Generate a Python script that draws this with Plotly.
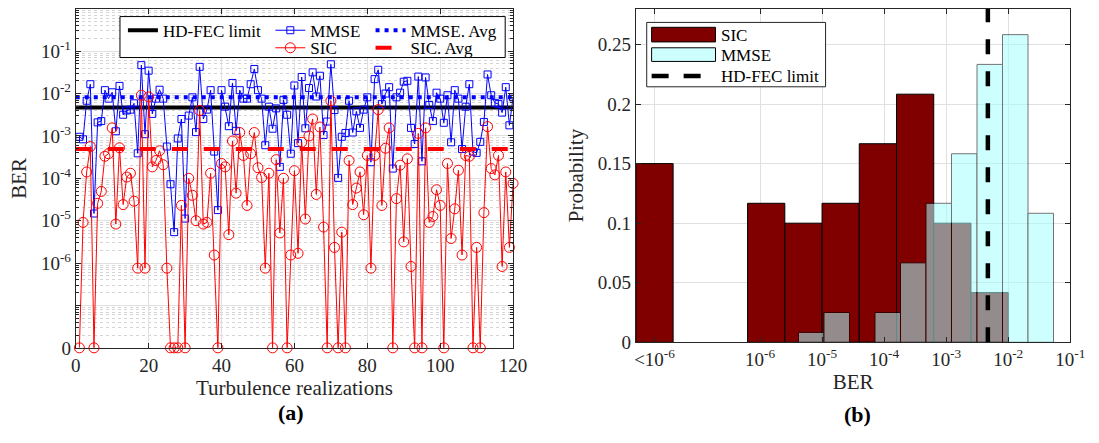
import math
import plotly.graph_objects as go

W, H = 1099, 443
FONT = "Liberation Serif, Times New Roman, serif"
INK = "#262626"

# ---------------- data: panel (a) ----------------
realization = list(range(1, 121))

# log10(BER) of MMSE for each turbulence realization
mmse_log10_ber = [
    -3.02, -3.08, -2.17, -1.78, -4.83, -2.68, -2.65, -1.92, -2.12, -1.97,
    -2.89, -1.82, -2.50, -2.40, -2.38, -2.23, -3.41, -1.33, -2.96, -1.46,
    -2.48, -2.12, -1.91, -2.12, -3.25, -4.14, -5.27, -3.06, -2.60, -4.95,
    -2.52, -2.09, -2.91, -1.37, -2.60, -2.38, -1.92, -3.37, -4.75, -1.92,
    -2.31, -2.77, -1.75, -2.88, -1.92, -2.12, -2.12, -1.78, -1.42, -1.92,
    -2.12, -3.22, -2.31, -2.83, -2.35, -3.73, -2.15, -2.50, -3.42, -1.81,
    -3.17, -1.61, -2.82, -1.87, -1.50, -2.07, -1.58, -2.98, -2.66, -1.31,
    -2.39, -3.99, -3.02, -2.93, -2.17, -2.92, -2.42, -2.81, -2.38, -2.09,
    -3.62, -1.66, -1.44, -2.25, -2.00, -1.85, -3.77, -2.09, -1.98, -1.72,
    -1.70, -2.81, -3.19, -1.60, -3.60, -1.62, -2.27, -2.65, -1.98, -2.12,
    -2.69, -2.04, -3.15, -1.92, -2.12, -3.31, -2.31, -1.78, -3.37, -3.40,
    -3.14, -2.67, -1.55, -2.04, -2.22, -2.25, -2.45, -1.85, -2.75, -2.09,
]

# log10(BER) of SIC; None = error free (BER = 0)
sic_log10_ber = [
    None, -5.04, -3.85, -3.25, None, -4.59, -4.31, -3.48, -3.42, -2.81,
    -5.08, -3.28, -4.62, -3.97, -3.88, -4.54, -6.12, -2.04, -6.12, -2.08,
    -3.73, -3.58, -3.35, -3.68, -6.12, None, None, None, -4.64, None,
    -4.00, -4.40, -5.00, -2.40, -5.08, -5.04, -3.88, -5.81, None, -3.65,
    -3.73, -5.33, -3.12, -4.35, -2.92, -3.46, -4.64, -3.42, -2.92, -3.75,
    -3.98, -6.12, -3.88, None, -3.56, -5.29, -4.00, None, -5.81, -3.82,
    -5.77, -3.15, -4.96, -3.00, -2.60, -4.38, -2.79, -5.15, None, -2.17,
    -5.63, None, -5.27, None, -3.58, -4.62, -4.23, -3.85, -4.86, -3.46,
    -6.12, -3.46, -2.38, -4.64, -3.29, -2.81, None, -4.48, -3.69, -5.50,
    -3.54, -6.08, None, -2.94, None, -2.81, -5.04, -4.90, -4.27, -4.64,
    None, -3.65, -5.42, -4.72, -3.81, -5.81, -3.46, -3.48, None, -5.63,
    None, -4.81, -2.78, -3.77, -3.92, -3.46, -6.08, -3.85, -5.63, -4.12,
]

HD_FEC = 4.7e-3
MMSE_AVG = 8.2e-3
SIC_AVG = 4.9e-4
ZERO_BER_POS = 1e-8          # where BER = 0 is drawn on the log axis

# ---------------- data: panel (b) ----------------
sic_bin_left = [-8.0, -6.2, -5.6, -5.0, -4.4, -3.8, -3.2, -2.6]   # log10(BER)
sic_bin_width = 0.6
sic_prob = [0.15, 0.1167, 0.10, 0.1167, 0.1667, 0.2083, 0.10, 0.0417]

mmse_bin_left = [-5.38, -4.969, -4.558, -4.147, -3.736, -3.325, -2.914, -2.503, -2.092, -1.681]
mmse_bin_width = 0.411
mmse_prob = [0.0083, 0.025, 0.0, 0.025, 0.0667, 0.1167, 0.1583, 0.2333, 0.2583, 0.1083]

b_tick_vals = [-7.7, -6, -5, -4, -3, -2, -1]
b_tick_text = ["&lt;10<sup>-6</sup>", "10<sup>-6</sup>", "10<sup>-5</sup>", "10<sup>-4</sup>",
               "10<sup>-3</sup>", "10<sup>-2</sup>", "10<sup>-1</sup>"]


def px(x):
    return x / W


def py(y):
    return 1 - y / H


mmse_ber = [10 ** v for v in mmse_log10_ber]
sic_ber = [0.0 if v is None else 10 ** v for v in sic_log10_ber]
sic_plot = [b if b > 0 else ZERO_BER_POS for b in sic_ber]

fig = go.Figure()

# ---- panel (a) ----
fig.add_trace(go.Scatter(
    x=[0, 120], y=[HD_FEC, HD_FEC], mode="lines", name="HD-FEC limit",
    line=dict(color="black", width=4), legend="legend", xaxis="x", yaxis="y"))
fig.add_trace(go.Scatter(
    x=realization, y=mmse_ber, mode="lines+markers", name="MMSE",
    line=dict(color="#0000ff", width=1),
    marker=dict(symbol="square-open", size=7, color="#0000ff", line=dict(width=1)),
    legend="legend2", xaxis="x", yaxis="y"))
fig.add_trace(go.Scatter(
    x=realization, y=sic_plot, mode="lines+markers", name="SIC",
    line=dict(color="#ff0000", width=1), cliponaxis=False,
    marker=dict(symbol="circle-open", size=10, color="#ff0000", line=dict(width=1)),
    legend="legend3", xaxis="x", yaxis="y"))
fig.add_trace(go.Scatter(
    x=[0, 120], y=[MMSE_AVG, MMSE_AVG], mode="lines", name="MMSE. Avg",
    line=dict(color="#0000ff", width=4, dash="4px,5px"),
    legend="legend4", xaxis="x", yaxis="y"))
fig.add_trace(go.Scatter(
    x=[0, 120], y=[SIC_AVG, SIC_AVG], mode="lines", name="SIC. Avg",
    line=dict(color="#ff0000", width=4, dash="16px,16px"),
    legend="legend5", xaxis="x", yaxis="y"))

# ---- panel (b) ----
fig.add_trace(go.Bar(
    x=[l + sic_bin_width / 2 for l in sic_bin_left], y=sic_prob,
    width=[sic_bin_width] * len(sic_prob), name="SIC",
    marker=dict(color="#800000", line=dict(color="black", width=1)),
    showlegend=False, xaxis="x2", yaxis="y2"))
fig.add_trace(go.Bar(
    x=[l + mmse_bin_width / 2 for l in mmse_bin_left], y=mmse_prob,
    width=[mmse_bin_width] * len(mmse_prob), name="MMSE", opacity=0.55,
    marker=dict(color="rgb(165,255,255)", line=dict(color="black", width=1)),
    showlegend=False, xaxis="x2", yaxis="y2"))
fig.add_trace(go.Scatter(
    x=[math.log10(HD_FEC)] * 2, y=[0, 0.28], mode="lines", name="HD-FEC limit",
    line=dict(color="black", width=4.5, dash="15px,17px"),
    showlegend=False, xaxis="x2", yaxis="y2"))

tickfont = dict(family=FONT, size=19, color=INK)
titlefont = dict(family=FONT, size=21, color=INK)
GRID = "#e0e0e0"

minor_vals = [k * 10 ** n for n in range(-8, 0) for k in range(2, 10)]

axis_common = dict(showline=True, linecolor=INK, linewidth=1, mirror="ticks",
                   ticks="inside", ticklen=5, tickcolor=INK, showgrid=True,
                   gridcolor=GRID, gridwidth=1, zeroline=False, tickfont=tickfont)

legend_common = dict(bgcolor="rgba(0,0,0,0)", borderwidth=0, xanchor="left", yanchor="top",
                     font=dict(family=FONT, size=17, color="black"))

fig.update_layout(
    width=W, height=H, autosize=False,
    margin=dict(l=0, r=0, t=0, b=0),
    paper_bgcolor="white", plot_bgcolor="white",
    barmode="overlay", showlegend=True,
    xaxis=dict(domain=[px(72), px(517)], range=[0, 120], tickmode="array",
               tickvals=[0, 20, 40, 60, 80, 100, 120], anchor="y",
               title=dict(text="Turbulence realizations", font=titlefont, standoff=4),
               **axis_common),
    yaxis=dict(domain=[py(356.7), py(9)], type="log", range=[-8, 0], anchor="x",
               tickmode="array",
               tickvals=[1e-8, 1e-7, 1e-6, 1e-5, 1e-4, 1e-3, 1e-2, 1e-1, 1],
               ticktext=["0", "", "10<sup>-6</sup>", "10<sup>-5</sup>", "10<sup>-4</sup>",
                         "10<sup>-3</sup>", "10<sup>-2</sup>", "10<sup>-1</sup>", ""],
               minor=dict(tickmode="array", tickvals=minor_vals, ticks="inside",
                          ticklen=3, tickcolor=INK, showgrid=True,
                          gridcolor="#d4d4d4", griddash="dot", gridwidth=1),
               title=dict(text="BER", font=titlefont, standoff=8),
               **axis_common),
    xaxis2=dict(domain=[px(642), px(1084)], range=[-8, -1], tickmode="array",
                tickvals=b_tick_vals, ticktext=b_tick_text, anchor="y2",
                title=dict(text="BER", font=titlefont, standoff=4),
                **axis_common),
    yaxis2=dict(domain=[py(351), py(9)], range=[0, 0.28], anchor="x2", tickmode="array",
                tickvals=[0, 0.05, 0.1, 0.15, 0.2, 0.25],
                ticktext=["0", "0.05", "0.1", "0.15", "0.2", "0.25"],
                title=dict(text="Probability", font=titlefont, standoff=8),
                **axis_common),
    legend=dict(x=px(120), y=py(13), **legend_common),
    legend2=dict(x=px(270), y=py(13), **legend_common),
    legend3=dict(x=px(270), y=py(31), **legend_common),
    legend4=dict(x=px(372), y=py(13), **legend_common),
    legend5=dict(x=px(372), y=py(31), **legend_common),
)

shapes = [
    # legend box, panel (a)
    dict(type="rect", xref="paper", yref="paper", x0=px(117), x1=px(509), y0=py(59), y1=py(17),
         fillcolor="white", line=dict(color="black", width=1), layer="above"),
    # legend box, panel (b)
    dict(type="rect", xref="paper", yref="paper", x0=px(653), x1=px(835), y0=py(89), y1=py(23),
         fillcolor="white", line=dict(color=INK, width=1), layer="above"),
    dict(type="rect", xref="paper", yref="paper", x0=px(658), x1=px(723), y0=py(43), y1=py(28),
         fillcolor="#800000", line=dict(color="black", width=1), layer="above"),
    dict(type="rect", xref="paper", yref="paper", x0=px(658), x1=px(723), y0=py(63), y1=py(49),
         fillcolor="rgb(206,255,255)", line=dict(color="black", width=1), layer="above"),
    dict(type="line", xref="paper", yref="paper", x0=px(658), x1=px(708), y0=py(78), y1=py(78),
         line=dict(color="black", width=4.5, dash="17px,15px"), layer="above"),
]

leg_font = dict(family=FONT, size=17, color="black")
annotations = [
    dict(text="SIC", x=px(727), y=py(36), xref="paper", yref="paper", showarrow=False,
         xanchor="left", yanchor="middle", font=leg_font),
    dict(text="MMSE", x=px(727), y=py(57), xref="paper", yref="paper", showarrow=False,
         xanchor="left", yanchor="middle", font=leg_font),
    dict(text="HD-FEC limit", x=px(727), y=py(78), xref="paper", yref="paper", showarrow=False,
         xanchor="left", yanchor="middle", font=leg_font),
    dict(text="<b>(a)</b>", x=px(291), y=py(423), xref="paper", yref="paper", showarrow=False,
         xanchor="center", yanchor="middle", font=dict(family=FONT, size=22, color="black")),
    dict(text="<b>(b)</b>", x=px(867), y=py(425), xref="paper", yref="paper", showarrow=False,
         xanchor="center", yanchor="middle", font=dict(family=FONT, size=22, color="black")),
]
fig.update_layout(shapes=shapes, annotations=annotations)

fig.write_html("out.html", config={"displayModeBar": False},
               post_script="document.body.style.margin='0';document.body.style.overflow='hidden';")
